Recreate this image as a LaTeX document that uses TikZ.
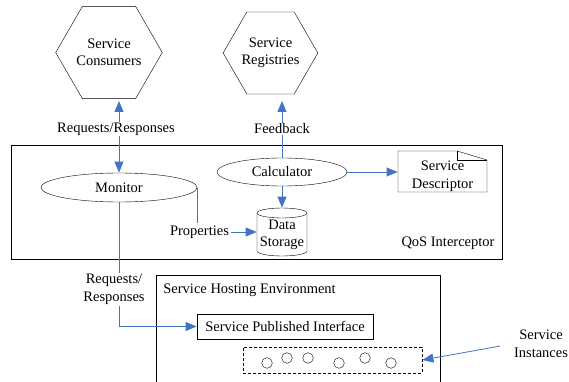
\documentclass[tikz,border=0pt]{standalone}
\usepackage{fontspec}
\setmainfont{Liberation Serif}
\usetikzlibrary{arrows.meta,shapes.geometric,calc}
\definecolor{qosblue}{RGB}{68,114,196}

\begin{document}
\begin{tikzpicture}[x=1pt, y=1pt, >={Triangle[length=11pt,width=9pt]},
  every node/.style={font=\fontsize{14.5}{17.5}\selectfont, align=center, inner sep=2pt},
  hexa/.style={draw, regular polygon, regular polygon sides=6, minimum size=94pt, inner sep=0pt},
  oval/.style={draw, ellipse, inner sep=0pt},
  conn/.style={qosblue, line width=0.8pt},
  lbl/.style={fill=white, inner sep=1pt}]
\useasboundingbox (0,0) rectangle (569,-382);
\tikzset{line width=0.8pt}
% top actors
\node[hexa] (cons) at (109,-52.5) {Service\\Consumers};
\node[hexa, minimum size=93pt] (reg) at (270.5,-53) {Service\\Registries};
\coordinate (constip) at (119,-101);
\coordinate (regtip) at (282,-101);
% QoS interceptor
\draw (11,-145) rectangle (502,-259);
\node (qos) at (448,-243) {QoS Interceptor};
\node[oval, minimum width=156pt, minimum height=29pt] (mon) at (119,-187.5) {Monitor};
\node[oval, minimum width=130pt, minimum height=28pt] (calc) at (282,-172) {Calculator};
\node[minimum width=89pt, minimum height=41pt] (desc) at (442.5,-176) {Service\\Descriptor};
\draw (398,-151) -- (457,-151) -- (487,-160) -- (487,-192) -- (398,-192) -- cycle;
\draw (457,-151) -- (457,-160) -- (487,-160);
\node[minimum width=50pt, minimum height=54pt] (store) at (282,-235) {Data\\Storage};
\draw (257,-213) -- (257,-251) arc[start angle=180, end angle=360, x radius=25, y radius=5] -- (307,-213);
\draw (282,-213) ellipse[x radius=25, y radius=5];
\node (prop) at (199.5,-232) {Properties};
% hosting environment
\draw (156,-382) -- (156,-275) -- (440,-275) -- (440,-382);
\node[anchor=west] (host) at (161,-290) {Service Hosting Environment};
\node[draw, minimum width=176pt, minimum height=25pt] (spi) at (285,-326.5) {Service Published Interface};
\node[draw, dashed, dash pattern=on 3pt off 2pt, minimum width=179pt, minimum height=26pt] (inst) at (332.5,-360) {};
\foreach \cx/\cy in {267/363, 287/358, 308/358, 339/363, 365/358, 391/363}
  \draw (\cx,-\cy) circle[radius=5.3];
\node (si) at (541,-344) {Service\\Instances};
% connectors
\draw[conn, <->] (constip) -- (constip |- mon.north);
\node[lbl] (rr) at (116,-129) {Requests/Responses};
\draw[conn, ->] (calc.north) -- (regtip);
\node[lbl] (fb) at (282,-129) {Feedback};
\draw[conn, ->] (calc) -- (calc -| desc.west);
\draw[conn, ->] (calc) -- (store);
\draw[conn] (mon.east) -- (mon.east |- prop.north);
\draw[conn, ->] (prop) -- (prop -| store.west);
\draw[conn, ->] (mon) -- (mon |- spi) -- (spi);
\node[lbl] (rr2) at (114,-289.5) {Requests/\\Responses};
\draw[conn, ->, shorten <=12pt] (si.west) -- (inst.east);
\end{tikzpicture}
\end{document}
